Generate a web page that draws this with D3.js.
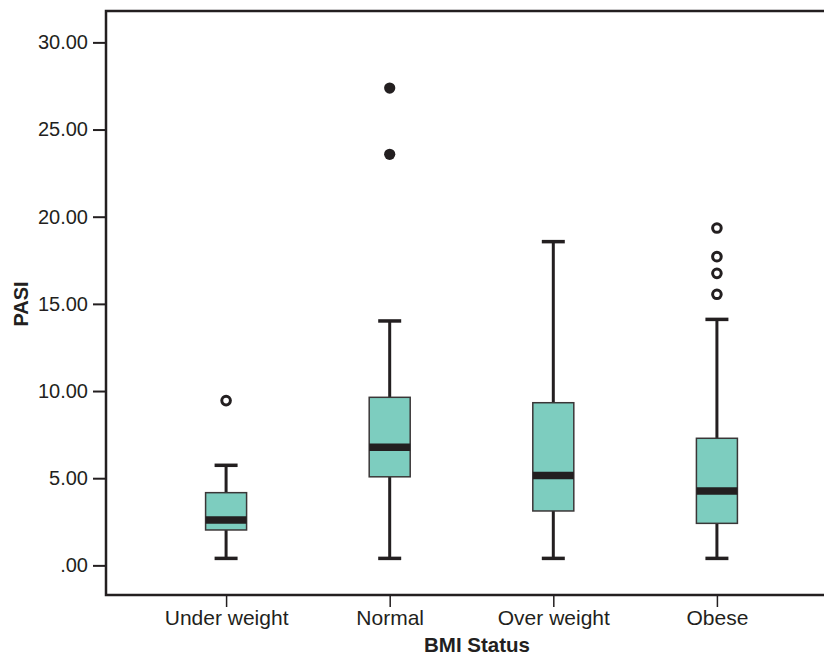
<!DOCTYPE html>
<html>
<head>
<meta charset="utf-8">
<script src="https://cdn.jsdelivr.net/npm/d3@7"></script>
<style>
  body { margin: 0; background: #fff; }
  svg { display: block; font-family: "Liberation Sans", Arial, sans-serif; }
</style>
</head>
<body>
<svg id="chart" width="824" height="655"></svg>
<script>
// BMI groups and box stats
const categories = ["Under weight", "Normal", "Over weight", "Obese"];
const whiskerLow = [0.40, 0.40, 0.40, 0.40];
const q1 = [2.03, 5.08, 3.12, 2.41];
const median = [2.60, 6.77, 5.16, 4.26];
const q3 = [4.17, 9.64, 9.33, 7.29];
const whiskerHigh = [5.74, 14.02, 18.57, 14.11];
// outliers: circles (open) and extremes (filled)
const outliers = [[9.45], [], [], [19.35, 17.71, 16.75, 15.55]];
const extremes = [[], [27.38, 23.58], [], []];
const yTicks = [0, 5, 10, 15, 20, 25, 30];

const ink = "#231f20";
const boxFill = "#7dcdbf";

const svg = d3.select("#chart");
const plotLeft = 106, plotTop = 11, plotBottom = 595, plotRight = 837;

const x = d3.scalePoint()
  .domain(categories)
  .range([plotLeft, plotRight])
  .padding(0.734);

const y = d3.scaleLinear()
  .domain([-1.7, 31.8])
  .range([plotBottom, plotTop]);

const fmt = v => d3.format(".2f")(v).replace(/^0\./, ".");

// y axis
const yAxis = svg.append("g")
  .attr("transform", `translate(${plotLeft},0)`)
  .call(d3.axisLeft(y).tickValues(yTicks).tickFormat(fmt).tickSize(13).tickPadding(5));
yAxis.select(".domain").remove();
yAxis.selectAll(".tick line").attr("stroke", ink).attr("stroke-width", 2);
yAxis.selectAll(".tick text").attr("fill", ink).style("font-size", "20px");

// x axis
const xAxis = svg.append("g")
  .attr("transform", `translate(0,${plotBottom})`)
  .call(d3.axisBottom(x).tickSize(12).tickPadding(3));
xAxis.select(".domain").remove();
xAxis.selectAll(".tick line").attr("stroke", ink).attr("stroke-width", 1.5);
xAxis.selectAll(".tick text").attr("fill", ink).style("font-size", "21px");

// frame
svg.append("path")
  .attr("d", `M${plotRight + 20},${plotTop}H${plotLeft}V${plotBottom}H${plotRight + 20}`)
  .attr("fill", "none")
  .attr("stroke", ink)
  .attr("stroke-width", 2.5);

// boxes
const boxW = 41, capW = 23;
const data = categories.map((c, i) => ({
  c, lo: whiskerLow[i], q1: q1[i], med: median[i], q3: q3[i], hi: whiskerHigh[i],
  out: outliers[i], ext: extremes[i]
}));

const g = svg.selectAll(".box")
  .data(data)
  .join("g")
  .attr("class", "box")
  .attr("transform", d => `translate(${x(d.c)},0)`);

// whisker stems
g.append("line")
  .attr("y1", d => y(d.lo)).attr("y2", d => y(d.q1))
  .attr("stroke", ink).attr("stroke-width", 3);
g.append("line")
  .attr("y1", d => y(d.q3)).attr("y2", d => y(d.hi))
  .attr("stroke", ink).attr("stroke-width", 3);
// caps
g.append("line")
  .attr("x1", -capW / 2).attr("x2", capW / 2)
  .attr("y1", d => y(d.lo)).attr("y2", d => y(d.lo))
  .attr("stroke", ink).attr("stroke-width", 3.5);
g.append("line")
  .attr("x1", -capW / 2).attr("x2", capW / 2)
  .attr("y1", d => y(d.hi)).attr("y2", d => y(d.hi))
  .attr("stroke", ink).attr("stroke-width", 3.5);

g.append("rect")
  .attr("x", -boxW / 2)
  .attr("width", boxW)
  .attr("y", d => y(d.q3))
  .attr("height", d => y(d.q1) - y(d.q3))
  .attr("fill", boxFill)
  .attr("stroke", "#3a3637")
  .attr("stroke-width", 1.5);

g.append("line")
  .attr("x1", -boxW / 2).attr("x2", boxW / 2)
  .attr("y1", d => y(d.med)).attr("y2", d => y(d.med))
  .attr("stroke", ink).attr("stroke-width", 7.5);

// outliers
g.selectAll(".out")
  .data(d => d.out)
  .join("circle")
  .attr("class", "out")
  .attr("cy", v => y(v))
  .attr("r", 4.3)
  .attr("fill", "#fff")
  .attr("stroke", ink)
  .attr("stroke-width", 3);

g.selectAll(".ext")
  .data(d => d.ext)
  .join("circle")
  .attr("class", "ext")
  .attr("cy", v => y(v))
  .attr("r", 5.6)
  .attr("fill", ink);

// axis titles
svg.append("text")
  .attr("x", 477)
  .attr("y", 652)
  .attr("text-anchor", "middle")
  .attr("fill", ink)
  .style("font-size", "20.5px")
  .style("font-weight", "bold")
  .text("BMI Status");

svg.append("text")
  .attr("transform", "translate(28,304) rotate(-90)")
  .attr("text-anchor", "middle")
  .attr("fill", ink)
  .style("font-size", "20px")
  .style("font-weight", "bold")
  .text("PASI");
</script>
</body>
</html>
